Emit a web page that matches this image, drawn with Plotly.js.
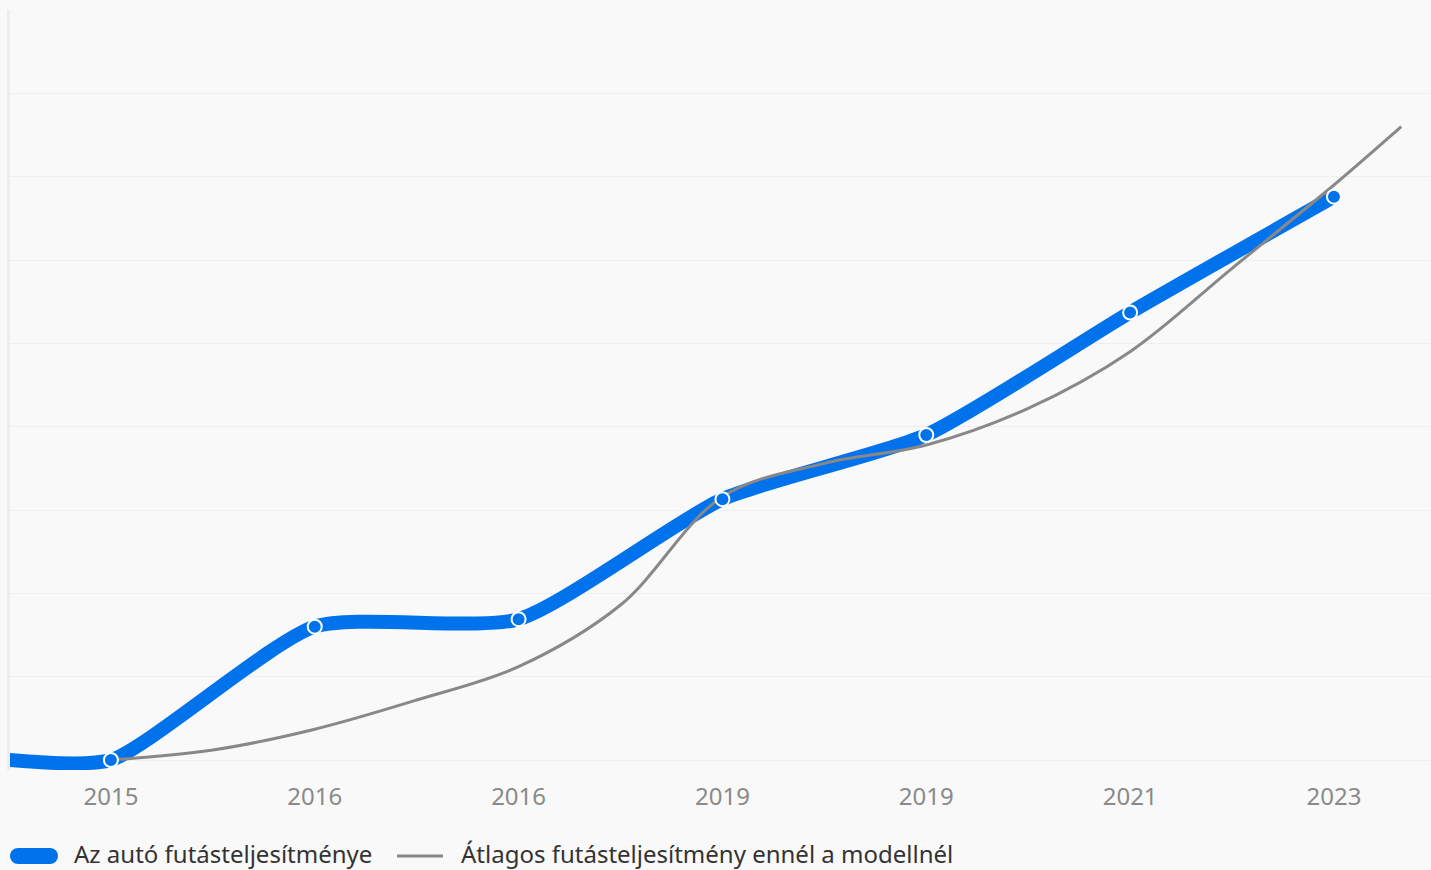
<!DOCTYPE html>
<html>
<head>
<meta charset="utf-8">
<script src="https://cdn.plot.ly/plotly-3.0.1.min.js"></script>
<style>
html,body{margin:0;padding:0;background:#f9f9f9;}
#chart{width:1431px;height:870px;}
</style>
</head>
<body>
<div id="chart"></div>
<script>
// Category tick labels (positions 0..6)
const tickLabels = ["2015", "2016", "2016", "2019", "2019", "2021", "2023"];
const tickPositions = [0, 1, 2, 3, 4, 5, 6];

// Car mileage (blue); first point is the lead-in at the left edge
const carX = [-0.5, 0, 1, 2, 3, 4, 5, 6];
const carY = [0, 0, 1.6, 1.69, 3.13, 3.9, 5.37, 6.76];

// Average mileage for this model (gray)
const avgX = [0, 0.5, 1, 1.5, 2, 2.5, 3, 3.5, 4, 4.5, 5, 5.5, 6, 6.33];
const avgY = [0, 0.12, 0.37, 0.72, 1.12, 1.86, 3.16, 3.56, 3.78, 4.22, 4.9, 5.9, 6.9, 7.6];

const seriesNames = ["Az autó futásteljesítménye", "Átlagos futásteljesítmény ennél a modellnél"];

const blue = "#0073ec";
const gray = "#888888";

// plot area geometry (pixels) used to place the custom legend
const W = 1431, H = 870, ML = 10, MR = 0, MT = 10, MB = 100;
const pw = W - ML - MR, ph = H - MT - MB;
const px = v => (v - ML) / pw;
const py = v => (H - MB - v) / ph;

const traces = [
  {
    x: carX, y: carY, name: seriesNames[0], type: "scatter", mode: "lines",
    line: {color: blue, width: 14, shape: "spline", smoothing: 0.6},
    hoverinfo: "skip", showlegend: false
  },
  {
    x: avgX, y: avgY, name: seriesNames[1], type: "scatter", mode: "lines",
    line: {color: gray, width: 3, shape: "spline", smoothing: 1},
    hoverinfo: "skip", showlegend: false
  },
  {
    x: carX.slice(1), y: carY.slice(1), name: seriesNames[0], type: "scatter", mode: "markers",
    marker: {size: 14, color: blue, line: {color: "#ffffff", width: 2}},
    hoverinfo: "skip", showlegend: false
  }
];

const legY = 856;
const shapes = [
  // blue legend bar with rounded ends
  {type: "line", xref: "paper", yref: "paper", x0: px(18), x1: px(50), y0: py(legY), y1: py(legY),
   line: {color: blue, width: 16}},
  {type: "circle", xref: "paper", yref: "paper", xsizemode: "pixel", ysizemode: "pixel",
   xanchor: px(18), yanchor: py(legY), x0: -8, x1: 8, y0: -8, y1: 8,
   fillcolor: blue, line: {width: 0}},
  {type: "circle", xref: "paper", yref: "paper", xsizemode: "pixel", ysizemode: "pixel",
   xanchor: px(50), yanchor: py(legY), x0: -8, x1: 8, y0: -8, y1: 8,
   fillcolor: blue, line: {width: 0}},
  // gray legend line
  {type: "line", xref: "paper", yref: "paper", x0: px(397), x1: px(443), y0: py(legY), y1: py(legY),
   line: {color: gray, width: 3}}
];

const annotations = [
  {xref: "paper", yref: "paper", x: px(72), y: py(legY - 2), xanchor: "left", yanchor: "middle",
   text: seriesNames[0], showarrow: false, font: {size: 24, color: "#333333"}},
  {xref: "paper", yref: "paper", x: px(459), y: py(legY - 2), xanchor: "left", yanchor: "middle",
   text: seriesNames[1], showarrow: false, font: {size: 24, color: "#333333"}}
];

const layout = {
  width: W, height: H,
  paper_bgcolor: "#f9f9f9", plot_bgcolor: "#f9f9f9",
  margin: {l: ML, r: MR, t: MT, b: MB},
  font: {family: "'Noto Sans', 'Open Sans', sans-serif", color: "#333333"},
  showlegend: false,
  shapes: shapes,
  annotations: annotations,
  xaxis: {
    range: [-0.495, 6.476], tickmode: "array", tickvals: tickPositions, ticktext: tickLabels,
    showgrid: false, zeroline: false, showline: false, ticks: "",
    tickfont: {size: 24, color: "#8a8a8a"}, ticklabelstandoff: 10, fixedrange: true
  },
  yaxis: {
    range: [-0.12, 9], tick0: 0, dtick: 1, showgrid: true, gridcolor: "#efefef", gridwidth: 1,
    zeroline: false, showticklabels: false, ticks: "",
    showline: true, linecolor: "#eeeeee", linewidth: 3, fixedrange: true
  }
};

Plotly.newPlot("chart", traces, layout, {displayModeBar: false, staticPlot: true});
</script>
</body>
</html>
